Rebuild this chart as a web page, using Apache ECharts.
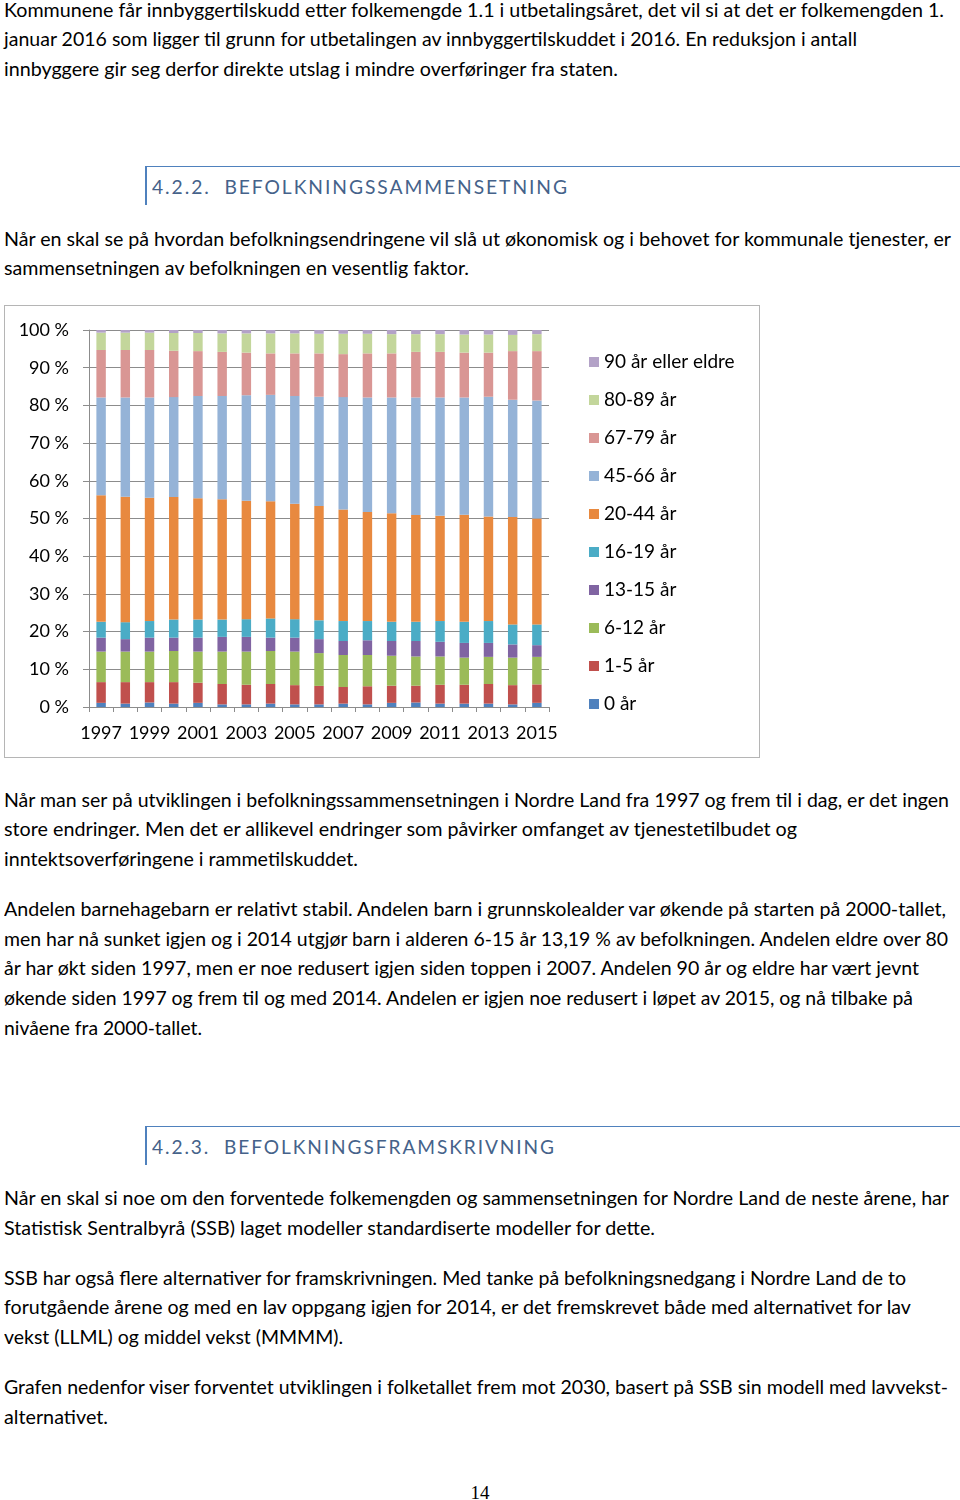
<!DOCTYPE html>
<html>
<head>
<meta charset="utf-8">
<script src="https://cdn.jsdelivr.net/npm/echarts@6/dist/echarts.min.js"></script>
<style>
  html, body { margin: 0; padding: 0; background: #fff; }
  body { width: 960px; height: 1500px; position: relative; overflow: hidden; font-family: Lato, "Open Sans", sans-serif; color: #000; }
  .ln { position: absolute; left: 4px; white-space: nowrap; font-size: 19px; line-height: 30px; height: 30px; transform-origin: 0 50%; }
  .hd { position: absolute; left: 145px; right: 0; height: 38px; border-top: 1.5px solid #4F81BD; border-left: 2px solid #4F81BD; }
  .hdt { position: absolute; white-space: nowrap; font-size: 20px; line-height: 30px; color: #45628A; letter-spacing: 2px; transform-origin: 0 50%; }
  #chartbox { position: absolute; left: 4px; top: 305px; width: 756px; height: 453px; box-sizing: border-box; border: 1.5px solid #B5B5B5; }
  #chart { position: absolute; left: 0; top: 0; width: 756px; height: 453px; }
  .pg { position: absolute; left: 0; width: 960px; text-align: center; top: 1478px; font-family: "Liberation Serif", serif; font-size: 19px; line-height: 30px; }
</style>
</head>
<body>
<div class="ln" style="top:-5px" data-w="940">Kommunene får innbyggertilskudd etter folkemengde 1.1 i utbetalingsåret, det vil si at det er folkemengden 1.</div>
<div class="ln" style="top:24px" data-w="853">januar 2016 som ligger til grunn for utbetalingen av innbyggertilskuddet i 2016. En reduksjon i antall</div>
<div class="ln" style="top:54px" data-w="614">innbyggere gir seg derfor direkte utslag i mindre overføringer fra staten.</div>

<div class="hd" style="top:166px"></div>
<div class="hdt" style="left:152px;top:171px" data-w="417">4.2.2.&nbsp;&nbsp;BEFOLKNINGSSAMMENSETNING</div>

<div class="ln" style="top:224px" data-w="947">Når en skal se på hvordan befolkningsendringene vil slå ut økonomisk og i behovet for kommunale tjenester, er</div>
<div class="ln" style="top:253px" data-w="465">sammensetningen av befolkningen en vesentlig faktor.</div>

<div id="chartbox"><div id="chart"></div></div>

<div class="ln" style="top:785px" data-w="945">Når man ser på utviklingen i befolkningssammensetningen i Nordre Land fra 1997 og frem til i dag, er det ingen</div>
<div class="ln" style="top:814px" data-w="793">store endringer. Men det er allikevel endringer som påvirker omfanget av tjenestetilbudet og</div>
<div class="ln" style="top:844px" data-w="354">inntektsoverføringene i rammetilskuddet.</div>

<div class="ln" style="top:894px" data-w="942">Andelen barnehagebarn er relativt stabil. Andelen barn i grunnskolealder var økende på starten på 2000-tallet,</div>
<div class="ln" style="top:924px" data-w="944">men har nå sunket igjen og i 2014 utgjør barn i alderen 6-15 år 13,19 % av befolkningen. Andelen eldre over 80</div>
<div class="ln" style="top:953px" data-w="915">år har økt siden 1997, men er noe redusert igjen siden toppen i 2007. Andelen 90 år og eldre har vært jevnt</div>
<div class="ln" style="top:983px" data-w="909">økende siden 1997 og frem til og med 2014. Andelen er igjen noe redusert i løpet av 2015, og nå tilbake på</div>
<div class="ln" style="top:1013px" data-w="198">nivåene fra 2000-tallet.</div>

<div class="hd" style="top:1126px"></div>
<div class="hdt" style="left:152px;top:1131px" data-w="404">4.2.3.&nbsp;&nbsp;BEFOLKNINGSFRAMSKRIVNING</div>

<div class="ln" style="top:1183px" data-w="945">Når en skal si noe om den forventede folkemengden og sammensetningen for Nordre Land de neste årene, har</div>
<div class="ln" style="top:1213px" data-w="651">Statistisk Sentralbyrå (SSB) laget modeller standardiserte modeller for dette.</div>

<div class="ln" style="top:1263px" data-w="902">SSB har også flere alternativer for framskrivningen. Med tanke på befolkningsnedgang i Nordre Land de to</div>
<div class="ln" style="top:1292px" data-w="907">forutgående årene og med en lav oppgang igjen for 2014, er det fremskrevet både med alternativet for lav</div>
<div class="ln" style="top:1322px" data-w="339">vekst (LLML) og middel vekst (MMMM).</div>

<div class="ln" style="top:1372px" data-w="944">Grafen nedenfor viser forventet utviklingen i folketallet frem mot 2030, basert på SSB sin modell med lavvekst-</div>
<div class="ln" style="top:1402px" data-w="104">alternativet.</div>

<div class="pg">14</div>

<script>
// ---- Data (percent of population) ----
const years = ['1997','1998','1999','2000','2001','2002','2003','2004','2005','2006','2007','2008','2009','2010','2011','2012','2013','2014','2015'];
const yTickLabels = ['0 %','10 %','20 %','30 %','40 %','50 %','60 %','70 %','80 %','90 %','100 %'];
const ageGroups = ['0 år','1-5 år','6-12 år','13-15 år','16-19 år','20-44 år','45-66 år','67-79 år','80-89 år','90 år eller eldre'];

const age0    = [1.1,0.9,1.2,0.9,1.1,0.7,0.7,0.9,0.7,0.7,0.9,0.7,1.1,1.2,0.9,0.9,0.9,0.7,1.1];
const age1_5  = [5.5,5.7,5.4,5.7,5.35,5.4,5.2,5.2,5.1,4.9,4.4,4.8,4.55,4.45,5.0,5.0,5.2,5.1,4.9];
const age6_12 = [8.1,8.1,8.1,8.25,8.25,8.6,8.8,8.75,8.9,8.7,8.5,8.3,7.95,7.75,7.5,7.2,7.2,7.3,7.3];
const age13_15= [3.7,3.3,3.7,3.55,3.7,3.9,3.9,3.55,3.7,3.7,3.7,3.9,3.9,4.1,3.9,3.9,3.7,3.5,3.1];
const age16_19= [4.2,4.5,4.4,4.8,4.8,4.6,4.7,5.1,4.9,5.0,5.3,5.1,5.1,5.1,5.5,5.6,5.8,5.3,5.5];
const age20_44= [33.6,33.3,32.7,32.5,32.2,31.9,31.4,31.1,30.6,30.3,29.6,28.9,28.8,28.3,27.9,28.4,27.7,28.5,28.1];
const age45_66= [25.9,26.3,26.6,26.5,27.1,27.4,28.0,28.2,28.6,29.0,29.8,30.4,30.7,31.2,31.4,31.1,31.8,31.1,31.3];
const age67_79= [12.6,12.6,12.6,12.3,11.9,11.7,11.3,11.0,11.3,11.5,11.4,11.7,11.7,12.1,12.1,11.9,11.7,12.9,13.1];
const age80_89= [4.6,4.6,4.6,4.7,4.8,4.9,5.1,5.3,5.3,5.2,5.4,5.2,5.1,4.7,4.7,4.8,4.8,4.3,4.5];
const age90p  = [0.7,0.7,0.7,0.8,0.8,0.9,0.9,0.9,0.9,1.0,1.0,1.0,1.1,1.1,1.1,1.2,1.2,1.3,1.1];

const seriesValues = [age0, age1_5, age6_12, age13_15, age16_19, age20_44, age45_66, age67_79, age80_89, age90p];
const colors = ['#4F81BD','#C0504D','#9BBB59','#8064A2','#4BACC6','#E8893F','#95B3D7','#D99694','#C3D69B','#B3A2C7'];

// fit text lines to reference widths
function fitLines() {
  document.querySelectorAll('[data-w]').forEach(el => {
    el.style.transform = 'none';
    const w = el.getBoundingClientRect().width;
    const t = parseFloat(el.getAttribute('data-w'));
    if (w > 0) el.style.transform = 'scaleX(' + (t / w) + ')';
  });
}
fitLines();
if (document.fonts && document.fonts.ready) document.fonts.ready.then(fitLines);

const chart = echarts.init(document.getElementById('chart'), null, { renderer: 'canvas' });
const font = 'Lato';
chart.setOption({
  animation: false,
  textStyle: { fontFamily: font },
  grid: { left: 84, top: 24, width: 460, height: 377, containLabel: false },
  legend: {
    orient: 'vertical',
    left: 579, top: 41,
    icon: 'rect', itemWidth: 10, itemHeight: 10, itemGap: 18,
    textStyle: { fontFamily: font, fontSize: 19, color: '#000', lineHeight: 20, padding: [0,0,0,0] },
    data: ageGroups.slice().reverse(),
    selectedMode: false
  },
  xAxis: {
    type: 'category',
    data: years,
    boundaryGap: true,
    axisLine: { show: true, lineStyle: { color: '#8C8C8C', width: 1 } },
    axisTick: { show: true, length: 5, lineStyle: { color: '#8C8C8C' }, interval: 0 },
    axisLabel: { interval: 1, fontFamily: font, fontSize: 18, color: '#000', margin: 17 },
    splitLine: { show: false }
  },
  yAxis: {
    type: 'value',
    min: 0, max: 100, interval: 10,
    axisLine: { show: true, lineStyle: { color: '#8C8C8C', width: 1 } },
    axisTick: { show: true, length: 6, inside: false, lineStyle: { color: '#8C8C8C' } },
    axisLabel: { fontFamily: font, fontSize: 18, color: '#000', margin: 20,
      formatter: v => yTickLabels[Math.round(v / 10)] },
    splitLine: { show: true, lineStyle: { color: '#8C8C8C', width: 1 } }
  },
  series: ageGroups.map((name, i) => ({
    name: name,
    type: 'bar',
    stack: 'total',
    barWidth: '39%',
    itemStyle: { color: colors[i] },
    data: seriesValues[i]
  }))
});
</script>
</body>
</html>
